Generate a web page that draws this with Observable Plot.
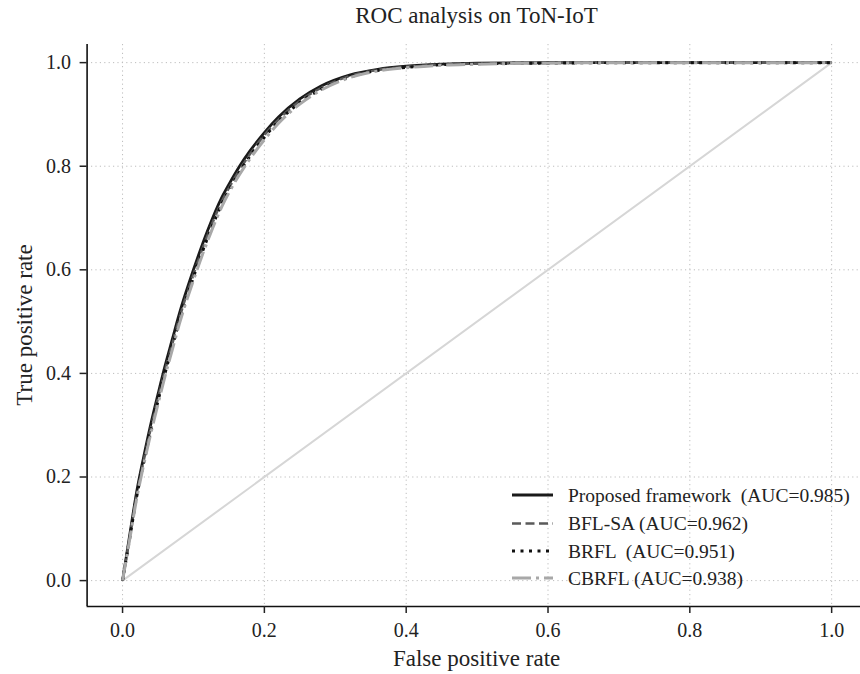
<!DOCTYPE html>
<html><head><meta charset="utf-8">
<script src="https://cdn.jsdelivr.net/npm/d3@7"></script>
<script src="https://cdn.jsdelivr.net/npm/@observablehq/plot@0.6"></script>
<style>body{margin:0;background:#fff}</style>
</head><body><div id="chart"></div>
<script>
const fpr      = [0, 0.01, 0.02, 0.03, 0.04, 0.05, 0.06, 0.07, 0.08, 0.10, 0.12, 0.14, 0.15, 0.165, 0.18, 0.20, 0.22, 0.25, 0.28, 0.32, 0.36, 0.40, 0.45, 0.50, 0.60, 0.70, 0.80, 0.90, 1.00];
const proposed = [0, 0.087, 0.172, 0.240, 0.303, 0.360, 0.415, 0.465, 0.515, 0.600, 0.676, 0.740, 0.765, 0.800, 0.830, 0.865, 0.895, 0.930, 0.955, 0.976, 0.987, 0.993, 0.997, 0.999, 1, 1, 1, 1, 1];
const bflsa    = [0, 0.083, 0.166, 0.233, 0.295, 0.352, 0.406, 0.456, 0.506, 0.591, 0.667, 0.732, 0.758, 0.793, 0.824, 0.860, 0.890, 0.926, 0.951, 0.974, 0.986, 0.992, 0.996, 0.998, 0.999, 1, 1, 1, 1];
const brfl     = [0, 0.081, 0.163, 0.229, 0.290, 0.347, 0.401, 0.451, 0.501, 0.586, 0.662, 0.727, 0.754, 0.789, 0.820, 0.856, 0.887, 0.923, 0.949, 0.972, 0.985, 0.991, 0.996, 0.998, 0.999, 1, 1, 1, 1];
const cbrfl    = [0, 0.079, 0.159, 0.225, 0.285, 0.341, 0.395, 0.445, 0.495, 0.580, 0.656, 0.722, 0.749, 0.784, 0.815, 0.851, 0.883, 0.920, 0.947, 0.971, 0.984, 0.990, 0.995, 0.997, 0.999, 1, 1, 1, 1];
const diagX = [0, 1];
const diagY = [0, 1];
const ticks = [0, 0.2, 0.4, 0.6, 0.8, 1.0];
const seriesNames = ["Proposed framework  (AUC=0.985)", "BFL-SA (AUC=0.962)", "BRFL  (AUC=0.951)", "CBRFL (AUC=0.938)"];
const seriesValues = [proposed, bflsa, brfl, cbrfl];
const styles = [
  {stroke: "#1a1a1a", strokeWidth: 2.8, strokeDasharray: null},
  {stroke: "#5a5a5a", strokeWidth: 2.5, strokeDasharray: "9,4.5"},
  {stroke: "#111111", strokeWidth: 3, strokeDasharray: "3,5.5"},
  {stroke: "#a8a8a8", strokeWidth: 3, strokeDasharray: "19,5,3,5"}
];

const diag = diagX.map((x, i) => ({x, y: diagY[i]}));
const lineMarks = seriesValues.map((vals, s) => {
  const rows = fpr.map((f, i) => ({fpr: f, tpr: vals[i]}));
  const st = styles[s];
  return Plot.line(rows, {x: "fpr", y: "tpr", stroke: st.stroke, strokeWidth: st.strokeWidth,
    strokeDasharray: st.strokeDasharray, curve: "monotone-x", strokeLinecap: "butt"});
});

const font = "Liberation Serif, Times New Roman, serif";
const plot = Plot.plot({
  width: 860, height: 674,
  marginLeft: 86.6, marginRight: 0, marginTop: 44, marginBottom: 68,
  x: {domain: [-0.05, 1.05], range: [86.6, 866.6]},
  y: {domain: [-0.05, 1.035], range: [606, 44]},
  style: {fontFamily: font, background: "#fff", color: "#222"},
  marks: [
    Plot.gridX({ticks, stroke: "#bdbdbd", strokeOpacity: 1, strokeWidth: 1, strokeDasharray: "1.2,3.2"}),
    Plot.gridY({ticks, stroke: "#bdbdbd", strokeOpacity: 1, strokeWidth: 1, strokeDasharray: "1.2,3.2"}),
    Plot.line(diag, {x: "x", y: "y", stroke: "#d6d6d6", strokeWidth: 2}),
    ...lineMarks,
    Plot.ruleX([-0.05], {stroke: "#111", strokeWidth: 1.6}),
    Plot.ruleY([-0.05], {stroke: "#111", strokeWidth: 1.6}),
    Plot.axisX({ticks, tickFormat: d3.format(".1f"), tickSize: 7, tickPadding: 9.5, fontSize: 20, strokeWidth: 1.5, label: null}),
    Plot.axisY({ticks, tickFormat: d3.format(".1f"), tickSize: 7, tickPadding: 9, fontSize: 20, strokeWidth: 1.5, label: null})
  ]
});
document.getElementById("chart").appendChild(plot);

const svg = d3.select(plot);
const cx = 476.6;
svg.append("text").attr("x", cx).attr("y", 23).attr("text-anchor", "middle")
  .attr("font-size", 23).attr("fill", "#222").attr("font-family", font).text("ROC analysis on ToN-IoT");
svg.append("text").attr("x", cx).attr("y", 666).attr("text-anchor", "middle")
  .attr("font-size", 23).attr("fill", "#222").attr("font-family", font).text("False positive rate");
svg.append("text").attr("transform", "translate(31.5,325) rotate(-90)").attr("text-anchor", "middle")
  .attr("font-size", 23).attr("fill", "#222").attr("font-family", font).text("True positive rate");

const leg = svg.append("g").attr("text-anchor", "start");
const rowsY = [495, 523.5, 551, 578];
seriesNames.forEach((name, i) => {
  const st = styles[i];
  leg.append("line").attr("x1", 512).attr("x2", 553).attr("y1", rowsY[i]).attr("y2", rowsY[i])
    .attr("stroke", st.stroke).attr("stroke-width", st.strokeWidth)
    .attr("stroke-dasharray", st.strokeDasharray).attr("stroke-linecap", "butt");
  leg.append("text").attr("x", 568).attr("y", rowsY[i]).attr("dy", "0.35em")
    .attr("text-anchor", "start")
    .attr("font-size", 19.5).attr("fill", "#222").attr("font-family", font)
    .style("white-space", "pre").text(name);
});
</script></body></html>
